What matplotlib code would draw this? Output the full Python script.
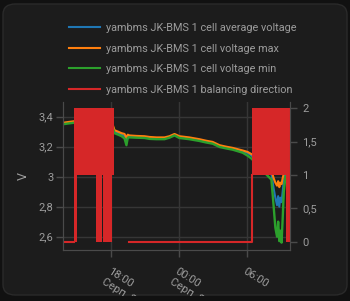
import matplotlib
matplotlib.use("Agg")
import matplotlib.pyplot as plt
from matplotlib.patches import FancyBboxPatch, Rectangle
from matplotlib.ticker import FuncFormatter
import numpy as np

# hours, 24 = midnight of the second day
t_volt = [13.73, 14.2, 14.71, 15.5, 16.5, 17.2, 17.64, 18.1, 18.27, 18.6, 18.9, 19.16,
          19.33, 19.45, 19.6, 20.2, 20.93, 21.38, 22.0, 22.71, 23.15, 23.6, 24.03, 24.9,
          25.81, 26.4, 26.98, 27.6, 28.2, 28.76, 29.64, 30.09, 30.44, 31.3, 32.2,
          32.4, 32.55, 32.7, 32.8, 32.9, 33.0, 33.1, 33.2, 33.3, 33.45]
v_max = [3.36, 3.365, 3.37, 3.38, 3.39, 3.40, 3.41, 3.35, 3.31, 3.30, 3.29, 3.285,
         3.26, 3.28, 3.275, 3.272, 3.27, 3.265, 3.262, 3.262, 3.27, 3.285, 3.27, 3.262,
         3.25, 3.24, 3.232, 3.21, 3.20, 3.192, 3.175, 3.165, 3.15, 3.10, 3.04,
         2.99, 2.96, 2.94, 2.97, 2.93, 2.96, 2.95, 2.99, 3.02, 3.05]
v_avg = [3.355, 3.36, 3.365, 3.375, 3.385, 3.395, 3.405, 3.34, 3.30, 3.29, 3.28, 3.27,
         3.23, 3.27, 3.268, 3.266, 3.264, 3.258, 3.256, 3.256, 3.265, 3.28, 3.264, 3.256,
         3.244, 3.234, 3.226, 3.204, 3.194, 3.186, 3.168, 3.158, 3.14, 3.08, 3.02,
         2.92, 2.86, 2.81, 2.87, 2.80, 2.86, 2.83, 2.90, 2.97, 3.02]
v_min = [3.35, 3.355, 3.36, 3.37, 3.38, 3.39, 3.40, 3.33, 3.29, 3.28, 3.27, 3.255,
         3.21, 3.26, 3.262, 3.26, 3.258, 3.252, 3.25, 3.25, 3.26, 3.275, 3.258, 3.25,
         3.238, 3.228, 3.22, 3.198, 3.188, 3.18, 3.16, 3.14, 3.12, 3.05, 2.98,
         2.80, 2.66, 2.60, 2.70, 2.57, 2.64, 2.56, 2.72, 2.90, 3.0]

# balancing direction: steady readings and dense toggling spans
t_bal = [13.73, 14.71, np.nan, 19.6, 30.44, 30.44]
v_bal = [0, 0, np.nan, 0, 0, 1]
span_start = [14.71, 14.71, 16.67, 17.25, 30.44, 33.46]
span_end = [18.27, 14.98, 17.18, 18.08, 33.82, 33.82]
span_low = [1, 0, 0, 0, 1, 0]
span_high = [2, 1, 1, 1, 2, 1]

x_ticks = [18, 24, 30]
x_labels = ["18:00\nСерп. 22", "00:00\nСерп. 23", "06:00"]

labels = ["yambms JK-BMS 1 cell average voltage", "yambms JK-BMS 1 cell voltage max",
          "yambms JK-BMS 1 cell voltage min", "yambms JK-BMS 1 balancing direction"]
colors = ["#1f77b4", "#ff7f0e", "#2ca02c", "#d62728"]

txt = "#9c9c9c"
gridc = "#363636"
axc = "#4a4a4a"
plt.rcParams['font.family'] = ['Roboto', 'DejaVu Sans']
plt.rcParams['font.size'] = 8

fig = plt.figure(figsize=(3.5, 3.01), dpi=100, facecolor="#111111")
W, H = 350.0, 301.0
card = FancyBboxPatch((3 / W, 6 / H), 344 / W, 291 / H,
                      boxstyle="round,pad=0,rounding_size=0.035",
                      transform=fig.transFigure, facecolor="#1c1c1c",
                      edgecolor="#2a2a2a", linewidth=1, zorder=-1)
fig.add_artist(card)

ax = fig.add_axes([63 / W, 1 - 250 / H, 227 / W, 148 / H])
ax.patch.set_visible(False)
ax2 = ax.twinx()

comma = FuncFormatter(lambda v, p: ('%g' % v).replace('.', ','))

h_avg, = ax.plot(t_volt, v_avg, color=colors[0], lw=1.5)
h_max, = ax.plot(t_volt, v_max, color=colors[1], lw=1.5)
h_min, = ax.plot(t_volt, v_min, color=colors[2], lw=1.7)
ax.set_xlim(13.7, 33.85)
ax.set_ylim(2.511, 3.498)
ax.set_yticks([2.6, 2.8, 3.0, 3.2, 3.4])
ax.yaxis.set_major_formatter(comma)
ax.set_xticks(x_ticks)
ax.set_xticklabels(x_labels, rotation=-32, ha='left', va='top', rotation_mode='anchor')
ax.grid(True, color=gridc, lw=1)
ax.set_ylabel("V", color=txt, fontsize=9, labelpad=6)

h_bal, = ax2.plot(t_bal, v_bal, color=colors[3], lw=1.5)
for s, e, lo, hi in zip(span_start, span_end, span_low, span_high):
    ax2.fill_between([s, e], [lo, lo], [hi, hi], color=colors[3], lw=0)
ax2.set_ylim(-0.12, 2.09)
ax2.set_yticks([0, 0.5, 1, 1.5, 2])
ax2.yaxis.set_major_formatter(comma)

for a in (ax, ax2):
    a.spines['top'].set_visible(False)
    for side in ('left', 'right', 'bottom'):
        a.spines[side].set_color(axc)
    a.tick_params(colors=axc, labelcolor=txt, length=5, width=1, labelsize=8)
ax.tick_params(axis='x', pad=7)
ax.tick_params(axis='y', pad=2)
ax2.tick_params(axis='y', pad=4)

# card bottom edge hides the cut-off date line
fig.add_artist(Rectangle((0, 0), 1, 5 / H, transform=fig.transFigure,
                         facecolor="#111111", edgecolor='none', zorder=10))

leg = fig.legend([h_avg, h_max, h_min, h_bal], labels, loc='upper left',
                 bbox_to_anchor=(69 / W, 1 - 23 / H), frameon=False,
                 fontsize=7.8, labelcolor=txt, handlelength=2.9,
                 handletextpad=0.5, labelspacing=0.98, borderpad=0,
                 borderaxespad=0)
for l in leg.get_lines():
    l.set_linewidth(1.5)

fig.savefig("out.png", dpi=100, facecolor=fig.get_facecolor())
